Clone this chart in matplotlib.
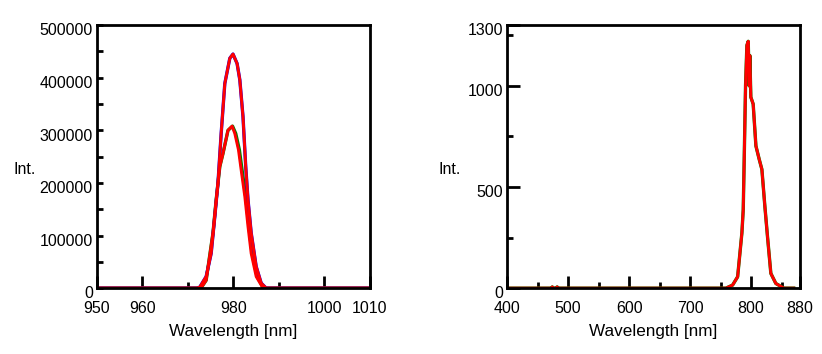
import numpy as np
import matplotlib.pyplot as plt
import matplotlib.transforms as mtransforms
from matplotlib.ticker import FixedLocator

plt.rcParams['font.family'] = ['Liberation Sans', 'DejaVu Sans']

# ---------------- left panel data ----------------
wl_tall = [950, 972.0, 972.6, 974.0, 975.1, 975.9, 976.6, 977.3, 978.1, 979.2, 979.9,
           980.8, 981.4, 982.1, 982.7, 983.2, 983.9, 985.0, 986.1, 987.2, 1010]
int_tall = [0, 0, 2000, 22000, 66000, 136000, 200000, 294000, 389000, 437000, 445000,
            427000, 396000, 326000, 231000, 168000, 105000, 41000, 9500, 0, 0]

wl_small = [950, 967.0, 972.0, 973.0, 974.0, 975.5, 976.2, 977.0, 977.7, 978.8, 979.7,
            980.3, 981.1, 981.8, 982.5, 983.2, 983.9, 985.0, 986.5, 1010]
int_small = [0, 0, 0, 2000, 15000, 105000, 168000, 231000, 256000, 300000, 308000,
             294000, 263000, 218000, 174000, 117000, 66000, 22000, 0, 0]

wl_green = [950, 967.0, 972.0, 973.0, 974.0, 975.5, 976.2, 977.0, 977.7, 978.8, 979.8,
            980.5, 981.3, 982.0, 982.7, 983.4, 984.1, 985.2, 986.6, 1010]

# ---------------- right panel data ----------------
wl_r = [400, 472, 474, 476, 480, 482, 484, 758.8, 769.7, 778.0, 782.3, 785.0, 787.2, 788.8,
        791.0, 793.2, 795.4, 797.0, 798.0, 799.7, 803.5, 808.0, 813.4, 817.8, 822.7,
        827.0, 832.5, 840.7, 854.0, 870]
int_r = [0, 0, 6, 0, 0, 6, 0, 0, 15, 56, 189, 273, 388, 637,
         1001, 1200, 1220, 1000, 1150, 944, 910, 703, 637, 587, 404,
         255, 73, 23, 0, 0]

fig = plt.figure(figsize=(8.22, 3.54), dpi=100)
shift = mtransforms.ScaledTranslation(0, -3 / 72, fig.dpi_scale_trans)

# ---------------- left ----------------
ax1 = fig.add_axes([0.118, 0.186, 0.332, 0.743])
ax1.plot(wl_green, int_small, color='green', lw=2.4)
ax1.plot(wl_tall, int_tall, color='blue', lw=2.4)
ax1.plot(wl_small, int_small, color='red', lw=2.1)
ax1.plot(wl_tall, int_tall, color='red', lw=2.1)
ax1.set_xlim(950, 1010)
ax1.set_ylim(0, 500000)
ax1.xaxis.set_major_locator(FixedLocator([950, 960, 980, 1000, 1010]))
ax1.xaxis.set_minor_locator(FixedLocator([970, 990]))
ax1.yaxis.set_major_locator(FixedLocator([0, 100000, 200000, 300000, 400000, 500000]))
ax1.yaxis.set_minor_locator(FixedLocator([50000, 150000, 250000, 350000, 450000]))
ax1.tick_params(axis='x', which='major', direction='in', length=9, width=2, labelsize=11.5, pad=9)
ax1.tick_params(axis='x', which='minor', direction='in', length=4, width=2)
ax1.tick_params(axis='y', which='both', direction='in', length=4, width=2, labelsize=11.5, pad=3)
ax1.set_xlabel('Wavelength [nm]', fontsize=12.3, labelpad=6)
ax1.set_ylabel('Int.', fontsize=11.5, rotation=0, va='center', ha='center')
ax1.yaxis.set_label_coords(-0.264, 0.45)

# ---------------- right ----------------
ax2 = fig.add_axes([0.617, 0.186, 0.356, 0.743])
ax2.plot(wl_r, int_r, color='green', lw=2.4)
ax2.plot(wl_r, int_r, color='red', lw=2.1)
ax2.set_xlim(400, 880)
ax2.set_ylim(0, 1300)
ax2.xaxis.set_major_locator(FixedLocator([400, 500, 600, 700, 800, 880]))
ax2.xaxis.set_minor_locator(FixedLocator([450, 550, 650, 750, 850]))
ax2.yaxis.set_major_locator(FixedLocator([0, 500, 1000, 1300]))
ax2.yaxis.set_minor_locator(FixedLocator([250, 750, 1250]))
ax2.tick_params(axis='x', which='major', direction='in', length=9, width=2, labelsize=11.5, pad=9)
ax2.tick_params(axis='x', which='minor', direction='in', length=4, width=2)
ax2.tick_params(axis='y', which='major', direction='in', length=9, width=2, labelsize=11.5, pad=3)
ax2.tick_params(axis='y', which='minor', direction='in', length=4, width=2)
ax2.set_xlabel('Wavelength [nm]', fontsize=12.3, labelpad=6)
ax2.set_ylabel('Int.', fontsize=11.5, rotation=0, va='center', ha='center')
ax2.yaxis.set_label_coords(-0.195, 0.45)

for ax in (ax1, ax2):
    for sp in ax.spines.values():
        sp.set_linewidth(2)
    for lab in ax.get_yticklabels():
        lab.set_transform(lab.get_transform() + shift)

fig.savefig('out.png', dpi=100)
